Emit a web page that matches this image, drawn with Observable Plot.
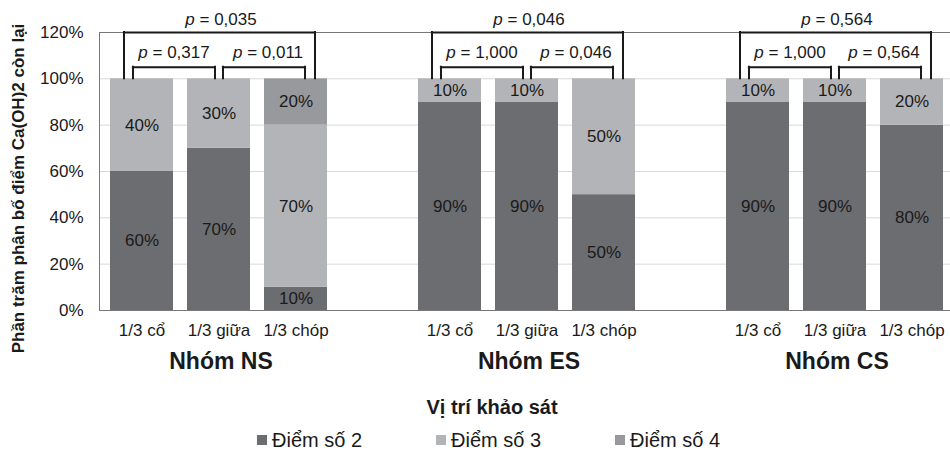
<!DOCTYPE html>
<html>
<head>
<meta charset="utf-8">
<script src="https://cdn.jsdelivr.net/npm/d3@7"></script>
<script src="https://cdn.jsdelivr.net/npm/@observablehq/plot@0.6"></script>
<style>
  body { margin: 0; background: #fff; font-family: "Liberation Sans", Arial, sans-serif; color: #1a1a1a; }
  #legend { height: 30px; padding-top: 5px; display: flex; align-items: center; padding-left: 257px; gap: 74px; font-size: 20px; line-height: 30px; }
  #legend .item { display: flex; align-items: center; gap: 5px; white-space: nowrap; }
  #legend .sw { width: 10px; height: 10px; display: inline-block; }
</style>
</head>
<body>
<div id="chart"></div>
<div id="legend"></div>
<script>
// ---- data ----
const groups = ["NS", "ES", "CS"];
const groupLabels = ["Nhóm NS", "Nhóm ES", "Nhóm CS"];
const positions = ["1/3 cổ", "1/3 giữa", "1/3 chóp"];
const series = ["Điểm số 2", "Điểm số 3", "Điểm số 4"];
const score2 = [60, 70, 10, 90, 90, 50, 90, 90, 80];
const score3 = [40, 30, 70, 10, 10, 50, 10, 10, 20];
const score4 = [0, 0, 20, 0, 0, 0, 0, 0, 0];
const pOuter = ["0,035", "0,046", "0,564"];
const pLeft = ["0,317", "1,000", "1,000"];
const pRight = ["0,011", "0,046", "0,564"];
const yTicks = [0, 20, 40, 60, 80, 100, 120];
const yLabel = "Phần trăm phân bố điểm Ca(OH)2 còn lại";
const xTitle = "Vị trí khảo sát";
const colors = ["#6c6d71", "#b3b4b8", "#98999d"];

// ---- build tables ----
const key = (g, p) => g + "|" + p;
const xKeys = [];
groups.forEach((g, i) => {
  positions.forEach(p => xKeys.push(key(g, p)));
  if (i < groups.length - 1) xKeys.push("gap" + i);
});
const seriesValues = [score2, score3, score4];
const rows = [];
series.forEach((s, si) => {
  groups.forEach((g, gi) => {
    positions.forEach((p, pi) => {
      rows.push({key: key(g, p), series: s, value: seriesValues[si][gi * 3 + pi]});
    });
  });
});
const groupRows = groups.map((g, i) => ({key: key(g, positions[1]), label: groupLabels[i]}));
const outer = groups.map((g, i) => ({from: key(g, positions[0]), mid: key(g, positions[1]), to: key(g, positions[2]), p: "p = " + pOuter[i]}));
const left = groups.map((g, i) => ({from: key(g, positions[0]), to: key(g, positions[1]), p: "p = " + pLeft[i]}));
const right = groups.map((g, i) => ({from: key(g, positions[1]), to: key(g, positions[2]), p: "p = " + pRight[i]}));

// ---- layout constants ----
const W = 950, H = 420, ML = 99, MR = -4, MT = 32, MB = 110;
const PI = 0.18, PO = 0.09;
const step = (W - ML - MR) / (xKeys.length - PI + 2 * PO);
const half = step * (1 - PI) / 2;
const ink = "#1a1a1a";

function bracket(data, dxL, dxR, level) {
  return [
    Plot.ruleX(data, {x: "from", y1: 100, y2: level, dx: dxL, stroke: ink, strokeWidth: 2, strokeLinecap: "square"}),
    Plot.ruleX(data, {x: "to", y1: 100, y2: level, dx: dxR, stroke: ink, strokeWidth: 2, strokeLinecap: "square"}),
    Plot.ruleY(data, {y: () => level, x1: "from", x2: "to", insetLeft: half + dxL, insetRight: half - dxR, stroke: ink, strokeWidth: 2, strokeLinecap: "square"})
  ];
}

const chart = Plot.plot({
  width: W, height: H,
  marginTop: MT, marginBottom: MB, marginLeft: ML, marginRight: MR,
  style: {fontFamily: "'Liberation Sans', Arial, sans-serif", fontSize: "17px", color: ink, background: "#fff"},
  x: {domain: xKeys, paddingInner: PI, paddingOuter: PO, tickSize: 0, tickPadding: 13,
      tickFormat: k => k.startsWith("gap") ? "" : k.split("|")[1], label: null},
  y: {domain: [0, 120], ticks: yTicks, tickFormat: d => d + "%", tickSize: 0, tickPadding: 16, label: null},
  color: {domain: series, range: colors},
  marks: [
    Plot.gridY(yTicks.filter(d => d > 0 && d < 120), {stroke: "#d9d9d9", strokeOpacity: 1}),
    Plot.barY(rows, {x: "key", y: "value", fill: "series"}),
    Plot.text(rows, Plot.stackY({x: "key", y: "value", text: d => d.value > 0 ? d.value + "%" : "", fill: ink, fontSize: 17})),
    Plot.frame({stroke: "#777"}),
    ...bracket(outer, -18, 19, 120),
    ...bracket(left, -9, -4, 105),
    ...bracket(right, 4, 9, 105),
    Plot.text(outer, {x: "mid", y: () => 125.4, text: "p", dx: 2, fontSize: 17, fill: ink}),
    Plot.text(left, {x: "from", y: () => 111.2, text: "p", dx: 32, fontSize: 17, fill: ink}),
    Plot.text(right, {x: "from", y: () => 111.2, text: "p", dx: 49, fontSize: 17, fill: ink}),
    Plot.text(groupRows, {x: "key", frameAnchor: "bottom", dy: 58, dx: 2, text: "label", fontSize: 23, fontWeight: "bold", fill: ink}),
    Plot.text([xTitle], {frameAnchor: "bottom", dy: 103, dx: -35, text: d => d, fontSize: 20, fontWeight: "bold", fill: ink}),
    Plot.text([yLabel], {frameAnchor: "left", textAnchor: "middle", rotate: -90, dx: -81, dy: 17, text: d => d, fontSize: 17, fontWeight: "bold", fill: ink})
  ]
});

// italic "p" in p-value labels
const ns = "http://www.w3.org/2000/svg";
chart.querySelectorAll("text").forEach(t => {
  if (t.textContent.startsWith("p = ")) {
    const rest = t.textContent.slice(1);
    t.textContent = "";
    const ts = document.createElementNS(ns, "tspan");
    ts.setAttribute("font-style", "italic");
    ts.textContent = "p";
    t.append(ts, document.createTextNode(rest));
  }
});
document.getElementById("chart").append(chart);

// legend
const lg = document.getElementById("legend");
series.forEach((s, i) => {
  const it = document.createElement("span");
  it.className = "item";
  const sw = document.createElement("span");
  sw.className = "sw";
  sw.style.background = colors[i];
  const tx = document.createElement("span");
  tx.textContent = s;
  it.append(sw, tx);
  lg.append(it);
});
</script>
</body>
</html>
